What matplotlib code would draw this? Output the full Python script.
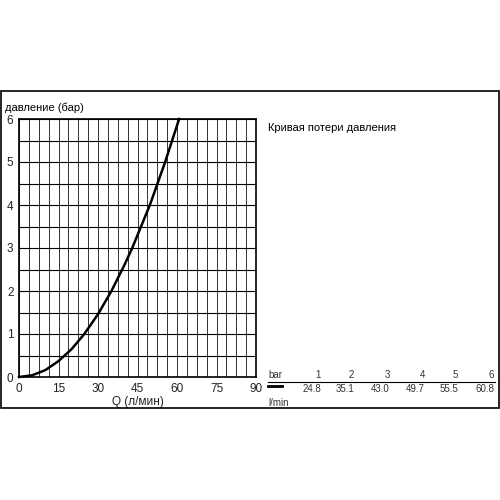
"""Pressure loss curve (Кривая потери давления) with flow table."""

import numpy as np
import matplotlib
matplotlib.use('Agg')
import matplotlib.pyplot as plt
from matplotlib.patches import Rectangle

plt.rcParams['font.family'] = ['Liberation Sans', 'DejaVu Sans']

# curve (l/min, bar)
curve_q = [0, 5, 10, 15, 20, 24.8, 30, 35.1, 40, 43.0, 49.7, 55.5, 60.8]
curve_p = [0, 0.04, 0.16, 0.37, 0.65, 1.0, 1.46, 2.0, 2.6, 3.0, 4.0, 5.0, 6.0]

# table values
table_bar = ['1', '2', '3', '4', '5', '6']
table_flow = ['24.8', '35.1', '43.0', '49.7', '55.5', '60.8']

x_ticks = [0, 15, 30, 45, 60, 75, 90]
y_ticks = [0, 1, 2, 3, 4, 5, 6]

fig = plt.figure(figsize=(5, 5), dpi=100)
ax = fig.add_axes([0.038, 0.246, 0.474, 0.516])

ax.set_xlim(0, 90)
ax.set_ylim(0, 6)
for x in np.arange(0, 90.01, 3.75):
    ax.axvline(x, color='#333333', lw=0.7, zorder=1)
for y in np.arange(0, 6.01, 0.5):
    ax.axhline(y, color='black', lw=0.8, zorder=1)

ax.plot(curve_q, curve_p, color='black', lw=1.8, zorder=3, clip_on=False)

ax.set_xticks(x_ticks)
ax.set_yticks(y_ticks)
ax.tick_params(length=0, labelsize=8.5, pad=4, colors='#222222')
for s in ax.spines.values():
    s.set_linewidth(1.2)
ax.set_xlabel('Q (л/мин)', fontsize=8.5, labelpad=1, color='#222222')

fig.text(0.01, 0.785, 'давление (бар)', fontsize=8, va='center')
fig.text(0.536, 0.744, 'Кривая потери давления', fontsize=8, va='center')

# table
right_edges = [0.642, 0.708, 0.78, 0.85, 0.916, 0.988]
fig.text(0.536, 0.249, 'bar', fontsize=7, va='center', color='#333333')
fig.text(0.536, 0.195, 'l/min', fontsize=7, va='center', color='#333333')
for xr, b, f in zip(right_edges, table_bar, table_flow):
    fig.text(xr, 0.249, b, fontsize=7, va='center', ha='right', color='#333333')
    fig.text(xr, 0.222, f, fontsize=7, va='center', ha='right', color='#333333')
fig.add_artist(plt.Line2D([0.536, 0.99], [0.236, 0.236], color='black', lw=0.8))
fig.add_artist(plt.Line2D([0.536, 0.564], [0.228, 0.228], color='black', lw=2))

fig.add_artist(Rectangle((0.002, 0.184), 0.995, 0.634, fill=False,
                         edgecolor='black', lw=1.2, transform=fig.transFigure))

fig.savefig('out.png', dpi=100)
